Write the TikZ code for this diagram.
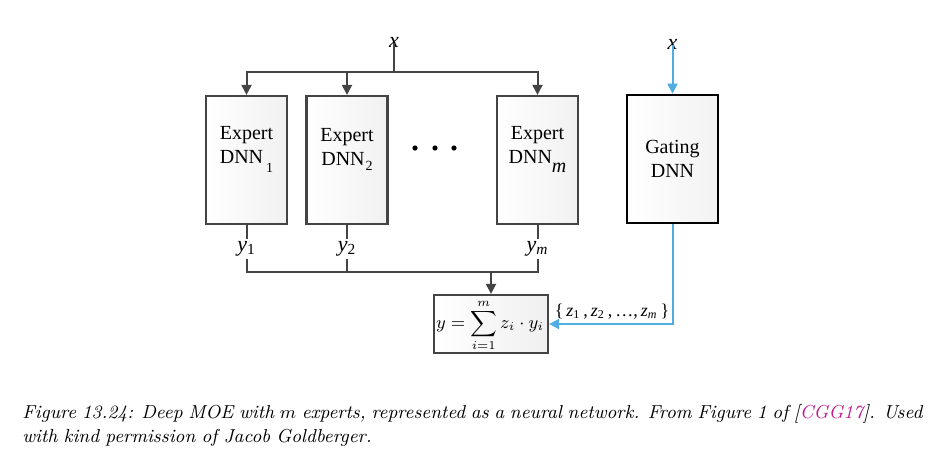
\documentclass[tikz,border=0pt]{standalone}
\usepackage{fontspec}
\newfontfamily\timesfont{Liberation Serif}
\usepackage{amsmath}
\usepackage{xcolor}
\usetikzlibrary{positioning,arrows.meta}
\definecolor{gateblue}{RGB}{80,172,226}
\definecolor{linegray}{RGB}{68,68,68}
\definecolor{citecol}{RGB}{192,28,140}

\tikzset{
  expertbox/.style={draw=linegray, line width=1.1pt, left color=white, right color=gray!11,
    minimum width=40.5pt, minimum height=64pt, inner sep=0pt},
  gatebox/.style={draw=black, line width=1.3pt, left color=white, right color=gray!10,
    minimum width=45.5pt, minimum height=64pt, align=center, font=\timesfont},
  sumbox/.style={draw=linegray, line width=1.1pt, left color=white, right color=gray!12,
    minimum width=57pt, minimum height=29pt, inner sep=0pt},
  boxtext/.style={align=center, font=\timesfont, inner sep=0pt},
  varlabel/.style={font=\timesfont\fontsize{11}{13}\selectfont, inner sep=1pt},
  conn/.style={draw=linegray, line width=1pt},
  gateconn/.style={draw=gateblue, line width=1pt},
  tip/.style={-{Triangle[length=5pt,width=5pt]}}
}

\begin{document}
\begin{tikzpicture}[x=0.5pt, y=-0.5pt]
  \useasboundingbox (0,0) rectangle (947,463);

  \node[expertbox] (e1) at (246.5,160) {};
  \node[expertbox] (e2) at (347,160) {};
  \node[expertbox] (em) at (537.5,160) {};
  \node[boxtext] at (246.5,149) {Expert\\DNN\hspace{1.5pt}\raisebox{-4.5pt}{\scriptsize 1}};
  \node[boxtext] at (347,149) {Expert\\DNN\hspace{0.5pt}\raisebox{-2.5pt}{\scriptsize 2}};
  \node[boxtext] at (537.5,149) {Expert\\DNN\raisebox{-4.5pt}{\itshape m}};
  \foreach \dx in {415,435,454}
    \fill (\dx,148) circle (1.3pt);

  \node[gatebox] (gate) at (672.5,159) {Gating\\DNN};

  \node[sumbox] (sum) at (491,324) {};
  \node[inner sep=0pt, font=\fontsize{9}{10}\selectfont] (sumtext) at (490,325.5)
    {$\displaystyle y=\sum_{i=1}^{m} z_i\cdot y_i$};

  \node[varlabel, inner sep=0pt] (xin) at (394,42) {\textit{x}};
  \node[varlabel, inner sep=0pt] (xgate) at (672.5,44) {\textit{x}};

  \coordinate (split) at (394,72);
  \draw[conn] (xin.south) ++(0,-4) -- (split);
  \draw[conn,tip] (split) -| (e1.north);
  \draw[conn,tip] (split) -| (e2.north);
  \draw[conn,tip] (split) -| (em.north);

  \node[varlabel] (y1) at (246.5,249) {\textit{y}\textsubscript{1}};
  \node[varlabel] (y2) at (347,249) {\textit{y}\textsubscript{2}};
  \node[varlabel] (ym) at (537.5,249) {\textit{y}\textsubscript{\textit{m}}};
  \draw[conn] (e1.south) -- (y1.north);
  \draw[conn] (e2.south) -- (y2.north);
  \draw[conn] (em.south) -- (ym.north);

  \coordinate (join) at (491,272);
  \draw[conn] (y1.south) |- (join);
  \draw[conn] (ym.south) |- (join);
  \draw[conn] (y2.south) -- (y2.south |- join);
  \draw[conn,tip] (join) -- (sum.north);

  \draw[gateconn,tip] (xgate.south) ++(0,-4) -- (gate.north);
  \draw[gateconn,tip] (gate.south) |- (sum.east);
  \node[font=\timesfont\small, inner sep=0pt] (zset) at (612,312)
    {\{\,\textit{z}\textsubscript{1}\,,\,\textit{z}\textsubscript{2}\,,\,\ldots,\,\textit{z}\textsubscript{\textit{m}}\,\}};

  \node[anchor=north west, text width=450pt, align=justify, inner sep=0pt,
    font=\itshape\fontsize{9.4}{12}\selectfont] (caption) at (22,404)
    {\spaceskip=0.33em plus 0.2em minus 0.16em
     Figure 13.24: Deep MOE with $m$ experts, represented as a neural network. From Figure 1 of [\textcolor{citecol}{CGG17}]. Used with kind permission of Jacob Goldberger.};
\end{tikzpicture}
\end{document}
